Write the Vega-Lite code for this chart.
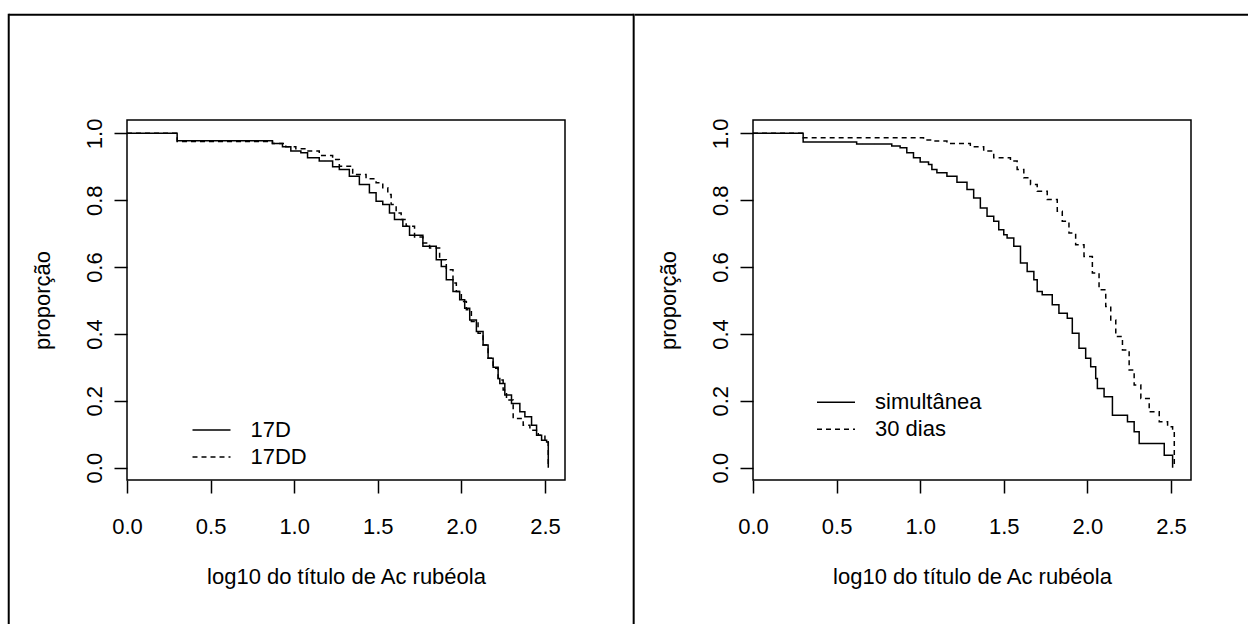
{
  "$schema": "https://vega.github.io/schema/vega-lite/v6.json",
  "background": "white",
  "padding": {"left": 6, "top": 11, "right": 0, "bottom": 0},
  "bounds": "flush",
  "spacing": 188,
  "config": {
    "font": "Liberation Sans",
    "view": {"stroke": "black", "strokeWidth": 1.5},
    "axis": {"domain": false, "grid": false, "ticks": true, "tickSize": 13, "tickColor": "black", "tickWidth": 1.5,
      "labelFont": "Liberation Sans", "labelFontSize": 22, "labelColor": "black",
      "titleFont": "Liberation Sans", "titleFontSize": 22, "titleFontWeight": "normal", "titleColor": "black",
      "labelFlush": false, "labelOverlap": false},
    "axisX": {"labelPadding": 40, "labelBaseline": "alphabetic", "titleBaseline": "alphabetic", "titlePadding": 46},
    "axisY": {"labelAngle": 270, "labelAlign": "center", "labelBaseline": "alphabetic", "labelPadding": 13,
      "titleAngle": 270, "titleBaseline": "alphabetic", "titlePadding": 34},
    "legend": {"orient": "none", "padding": 0, "title": null, "symbolType": "stroke", "symbolStrokeColor": "black",
      "symbolStrokeWidth": 1.5, "symbolSize": 1444, "labelFont": "Liberation Sans", "labelFontSize": 22,
      "labelColor": "black", "labelOffset": 19, "rowPadding": 0, "clipHeight": 26.7}
  },
  "datasets": {
    "A": [
      {"serie": "17D", "x": 0, "y": 1.0},
      {"serie": "17D", "x": 0.30, "y": 0.978},
      {"serie": "17D", "x": 0.87, "y": 0.970},
      {"serie": "17D", "x": 0.93, "y": 0.960},
      {"serie": "17D", "x": 0.98, "y": 0.947},
      {"serie": "17D", "x": 1.04, "y": 0.942},
      {"serie": "17D", "x": 1.08, "y": 0.927},
      {"serie": "17D", "x": 1.15, "y": 0.917},
      {"serie": "17D", "x": 1.23, "y": 0.900},
      {"serie": "17D", "x": 1.27, "y": 0.892},
      {"serie": "17D", "x": 1.33, "y": 0.872},
      {"serie": "17D", "x": 1.39, "y": 0.847},
      {"serie": "17D", "x": 1.45, "y": 0.822},
      {"serie": "17D", "x": 1.49, "y": 0.797},
      {"serie": "17D", "x": 1.53, "y": 0.787},
      {"serie": "17D", "x": 1.57, "y": 0.762},
      {"serie": "17D", "x": 1.60, "y": 0.742},
      {"serie": "17D", "x": 1.65, "y": 0.722},
      {"serie": "17D", "x": 1.69, "y": 0.695},
      {"serie": "17D", "x": 1.77, "y": 0.662},
      {"serie": "17D", "x": 1.85, "y": 0.622},
      {"serie": "17D", "x": 1.88, "y": 0.602},
      {"serie": "17D", "x": 1.91, "y": 0.562},
      {"serie": "17D", "x": 1.95, "y": 0.527},
      {"serie": "17D", "x": 1.99, "y": 0.502},
      {"serie": "17D", "x": 2.02, "y": 0.477},
      {"serie": "17D", "x": 2.05, "y": 0.442},
      {"serie": "17D", "x": 2.09, "y": 0.407},
      {"serie": "17D", "x": 2.13, "y": 0.367},
      {"serie": "17D", "x": 2.16, "y": 0.327},
      {"serie": "17D", "x": 2.19, "y": 0.300},
      {"serie": "17D", "x": 2.22, "y": 0.267},
      {"serie": "17D", "x": 2.23, "y": 0.252},
      {"serie": "17D", "x": 2.26, "y": 0.217},
      {"serie": "17D", "x": 2.30, "y": 0.192},
      {"serie": "17D", "x": 2.35, "y": 0.167},
      {"serie": "17D", "x": 2.38, "y": 0.152},
      {"serie": "17D", "x": 2.42, "y": 0.127},
      {"serie": "17D", "x": 2.45, "y": 0.097},
      {"serie": "17D", "x": 2.48, "y": 0.082},
      {"serie": "17D", "x": 2.51, "y": 0.077},
      {"serie": "17D", "x": 2.52, "y": 0.0},
      {"serie": "17DD", "x": 0, "y": 1.0},
      {"serie": "17DD", "x": 0.30, "y": 0.976},
      {"serie": "17DD", "x": 0.87, "y": 0.970},
      {"serie": "17DD", "x": 0.95, "y": 0.960},
      {"serie": "17DD", "x": 1.01, "y": 0.954},
      {"serie": "17DD", "x": 1.07, "y": 0.947},
      {"serie": "17DD", "x": 1.15, "y": 0.934},
      {"serie": "17DD", "x": 1.23, "y": 0.922},
      {"serie": "17DD", "x": 1.27, "y": 0.902},
      {"serie": "17DD", "x": 1.35, "y": 0.877},
      {"serie": "17DD", "x": 1.43, "y": 0.864},
      {"serie": "17DD", "x": 1.49, "y": 0.852},
      {"serie": "17DD", "x": 1.53, "y": 0.837},
      {"serie": "17DD", "x": 1.56, "y": 0.817},
      {"serie": "17DD", "x": 1.58, "y": 0.787},
      {"serie": "17DD", "x": 1.61, "y": 0.762},
      {"serie": "17DD", "x": 1.64, "y": 0.742},
      {"serie": "17DD", "x": 1.67, "y": 0.722},
      {"serie": "17DD", "x": 1.72, "y": 0.690},
      {"serie": "17DD", "x": 1.77, "y": 0.672},
      {"serie": "17DD", "x": 1.81, "y": 0.657},
      {"serie": "17DD", "x": 1.87, "y": 0.622},
      {"serie": "17DD", "x": 1.91, "y": 0.592},
      {"serie": "17DD", "x": 1.95, "y": 0.552},
      {"serie": "17DD", "x": 1.97, "y": 0.527},
      {"serie": "17DD", "x": 2.00, "y": 0.497},
      {"serie": "17DD", "x": 2.03, "y": 0.472},
      {"serie": "17DD", "x": 2.06, "y": 0.437},
      {"serie": "17DD", "x": 2.10, "y": 0.402},
      {"serie": "17DD", "x": 2.13, "y": 0.367},
      {"serie": "17DD", "x": 2.16, "y": 0.327},
      {"serie": "17DD", "x": 2.19, "y": 0.297},
      {"serie": "17DD", "x": 2.22, "y": 0.262},
      {"serie": "17DD", "x": 2.25, "y": 0.232},
      {"serie": "17DD", "x": 2.27, "y": 0.202},
      {"serie": "17DD", "x": 2.31, "y": 0.147},
      {"serie": "17DD", "x": 2.37, "y": 0.127},
      {"serie": "17DD", "x": 2.41, "y": 0.112},
      {"serie": "17DD", "x": 2.46, "y": 0.097},
      {"serie": "17DD", "x": 2.50, "y": 0.077},
      {"serie": "17DD", "x": 2.52, "y": 0.0}
    ],
    "B": [
      {"serie": "simultânea", "x": 0, "y": 1.0},
      {"serie": "simultânea", "x": 0.30, "y": 0.974},
      {"serie": "simultânea", "x": 0.62, "y": 0.968},
      {"serie": "simultânea", "x": 0.83, "y": 0.962},
      {"serie": "simultânea", "x": 0.88, "y": 0.957},
      {"serie": "simultânea", "x": 0.92, "y": 0.942},
      {"serie": "simultânea", "x": 0.96, "y": 0.927},
      {"serie": "simultânea", "x": 1.00, "y": 0.914},
      {"serie": "simultânea", "x": 1.05, "y": 0.907},
      {"serie": "simultânea", "x": 1.07, "y": 0.892},
      {"serie": "simultânea", "x": 1.10, "y": 0.882},
      {"serie": "simultânea", "x": 1.16, "y": 0.872},
      {"serie": "simultânea", "x": 1.22, "y": 0.854},
      {"serie": "simultânea", "x": 1.28, "y": 0.832},
      {"serie": "simultânea", "x": 1.32, "y": 0.807},
      {"serie": "simultânea", "x": 1.36, "y": 0.777},
      {"serie": "simultânea", "x": 1.40, "y": 0.752},
      {"serie": "simultânea", "x": 1.44, "y": 0.737},
      {"serie": "simultânea", "x": 1.47, "y": 0.712},
      {"serie": "simultânea", "x": 1.50, "y": 0.697},
      {"serie": "simultânea", "x": 1.52, "y": 0.687},
      {"serie": "simultânea", "x": 1.56, "y": 0.662},
      {"serie": "simultânea", "x": 1.60, "y": 0.612},
      {"serie": "simultânea", "x": 1.64, "y": 0.587},
      {"serie": "simultânea", "x": 1.68, "y": 0.562},
      {"serie": "simultânea", "x": 1.70, "y": 0.527},
      {"serie": "simultânea", "x": 1.73, "y": 0.517},
      {"serie": "simultânea", "x": 1.79, "y": 0.487},
      {"serie": "simultânea", "x": 1.83, "y": 0.462},
      {"serie": "simultânea", "x": 1.88, "y": 0.447},
      {"serie": "simultânea", "x": 1.91, "y": 0.402},
      {"serie": "simultânea", "x": 1.95, "y": 0.357},
      {"serie": "simultânea", "x": 1.99, "y": 0.327},
      {"serie": "simultânea", "x": 2.02, "y": 0.302},
      {"serie": "simultânea", "x": 2.05, "y": 0.267},
      {"serie": "simultânea", "x": 2.06, "y": 0.237},
      {"serie": "simultânea", "x": 2.10, "y": 0.212},
      {"serie": "simultânea", "x": 2.15, "y": 0.157},
      {"serie": "simultânea", "x": 2.24, "y": 0.137},
      {"serie": "simultânea", "x": 2.28, "y": 0.107},
      {"serie": "simultânea", "x": 2.31, "y": 0.072},
      {"serie": "simultânea", "x": 2.46, "y": 0.037},
      {"serie": "simultânea", "x": 2.51, "y": 0.0},
      {"serie": "30 dias", "x": 0, "y": 1.0},
      {"serie": "30 dias", "x": 0.30, "y": 0.987},
      {"serie": "30 dias", "x": 1.02, "y": 0.980},
      {"serie": "30 dias", "x": 1.07, "y": 0.977},
      {"serie": "30 dias", "x": 1.16, "y": 0.970},
      {"serie": "30 dias", "x": 1.30, "y": 0.960},
      {"serie": "30 dias", "x": 1.38, "y": 0.947},
      {"serie": "30 dias", "x": 1.44, "y": 0.927},
      {"serie": "30 dias", "x": 1.54, "y": 0.917},
      {"serie": "30 dias", "x": 1.58, "y": 0.892},
      {"serie": "30 dias", "x": 1.62, "y": 0.867},
      {"serie": "30 dias", "x": 1.66, "y": 0.847},
      {"serie": "30 dias", "x": 1.70, "y": 0.827},
      {"serie": "30 dias", "x": 1.76, "y": 0.802},
      {"serie": "30 dias", "x": 1.82, "y": 0.767},
      {"serie": "30 dias", "x": 1.85, "y": 0.737},
      {"serie": "30 dias", "x": 1.89, "y": 0.702},
      {"serie": "30 dias", "x": 1.93, "y": 0.667},
      {"serie": "30 dias", "x": 1.98, "y": 0.632},
      {"serie": "30 dias", "x": 2.03, "y": 0.582},
      {"serie": "30 dias", "x": 2.07, "y": 0.532},
      {"serie": "30 dias", "x": 2.11, "y": 0.482},
      {"serie": "30 dias", "x": 2.14, "y": 0.442},
      {"serie": "30 dias", "x": 2.17, "y": 0.392},
      {"serie": "30 dias", "x": 2.21, "y": 0.352},
      {"serie": "30 dias", "x": 2.25, "y": 0.292},
      {"serie": "30 dias", "x": 2.28, "y": 0.247},
      {"serie": "30 dias", "x": 2.32, "y": 0.207},
      {"serie": "30 dias", "x": 2.37, "y": 0.167},
      {"serie": "30 dias", "x": 2.43, "y": 0.137},
      {"serie": "30 dias", "x": 2.48, "y": 0.122},
      {"serie": "30 dias", "x": 2.51, "y": 0.112},
      {"serie": "30 dias", "x": 2.52, "y": 0.0}
    ]
  },
  "resolve": {"scale": {"x": "independent", "y": "independent", "strokeDash": "independent"}, "legend": {"strokeDash": "independent"}},
  "hconcat": [
    {
      "width": 438, "height": 360,
      "layer": [
        {
          "data": {"name": "A"},
          "mark": {"type": "line", "interpolate": "step-after", "color": "black", "strokeWidth": 1.5},
          "encoding": {
            "x": {"field": "x", "type": "quantitative", "scale": {"domain": [0, 2.62], "nice": false, "zero": false},
              "axis": {"title": "log10 do título de Ac rubéola", "values": [0, 0.5, 1, 1.5, 2, 2.5], "format": ".1f"}},
            "y": {"field": "y", "type": "quantitative", "scale": {"domain": [-0.037, 1.04], "nice": false, "zero": false},
              "axis": {"title": "proporção", "values": [0, 0.2, 0.4, 0.6, 0.8, 1], "format": ".1f"}},
            "strokeDash": {"field": "serie", "type": "nominal", "scale": {"domain": ["17D", "17DD"], "range": [[1, 0], [5, 4]]},
              "legend": {"legendX": 64.5, "legendY": 296.6}}
          }
        },
        {
          "data": {"values": [{}]},
          "mark": {"type": "rule", "color": "black", "strokeWidth": 2},
          "encoding": {"x": {"datum": -0.7075}, "x2": {"datum": 3.0308}, "y": {"datum": 1.3549}}
        },
        {
          "data": {"values": [{}]},
          "mark": {"type": "rule", "color": "black", "strokeWidth": 2},
          "encoding": {"x": {"datum": -0.7075}, "y": {"datum": -0.476}, "y2": {"datum": 1.3579}}
        },
        {
          "data": {"values": [{}]},
          "mark": {"type": "rule", "color": "black", "strokeWidth": 2},
          "encoding": {"x": {"datum": 3.0308}, "y": {"datum": -0.476}, "y2": {"datum": 1.3579}}
        }
      ]
    },
    {
      "width": 438, "height": 360,
      "layer": [
        {
          "data": {"name": "B"},
          "mark": {"type": "line", "interpolate": "step-after", "color": "black", "strokeWidth": 1.5},
          "encoding": {
            "x": {"field": "x", "type": "quantitative", "scale": {"domain": [0, 2.62], "nice": false, "zero": false},
              "axis": {"title": "log10 do título de Ac rubéola", "values": [0, 0.5, 1, 1.5, 2, 2.5], "format": ".1f"}},
            "y": {"field": "y", "type": "quantitative", "scale": {"domain": [-0.037, 1.04], "nice": false, "zero": false},
              "axis": {"title": "proporção", "values": [0, 0.2, 0.4, 0.6, 0.8, 1], "format": ".1f"}},
            "strokeDash": {"field": "serie", "type": "nominal", "scale": {"domain": ["simultânea", "30 dias"], "range": [[1, 0], [5, 4]]},
              "legend": {"legendX": 63, "legendY": 269}}
          }
        },
        {
          "data": {"values": [{}]},
          "mark": {"type": "rule", "color": "black", "strokeWidth": 2},
          "encoding": {"x": {"datum": -0.7076}, "x2": {"datum": 2.970}, "y": {"datum": 1.3549}}
        }
      ]
    }
  ]
}
